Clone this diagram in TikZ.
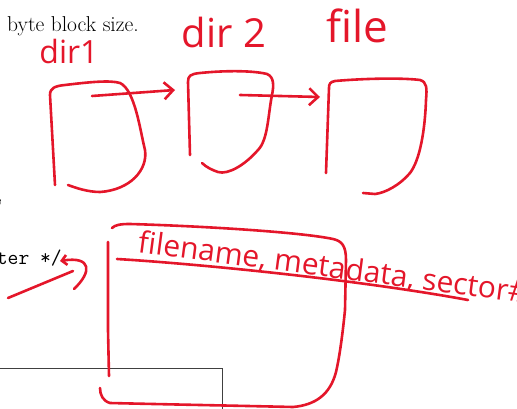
\documentclass[tikz,border=0pt]{standalone}
\usepackage{fontspec}
\usetikzlibrary{arrows.meta}
\newfontfamily\handfont{Open Sans}
\definecolor{ink}{RGB}{228,22,42}
\begin{document}
\begin{tikzpicture}[x=1pt,y=-1pt,
  pen/.style={ink, line width=2.6pt, line cap=round, line join=round},
  tip/.style={pen, -{Straight Barb[length=9pt,width=17pt]}},
  hand/.style={ink, inner sep=0pt, font=\handfont\fontsize{#1}{#1}\selectfont},
  print/.style={black, inner sep=0pt, anchor=base west, font=\fontsize{21.5}{24}\selectfont}]
\useasboundingbox (0,0) rectangle (517,409);
\clip (0,0) rectangle (517,409);

% page underneath
\node[print] (bsize) at (7,32) {byte block size.};
\node[print, anchor=base east] (comma) at (3,201) {,};
\node[print, anchor=base east, font=\ttfamily\fontsize{21}{24}\selectfont] (cmt) at (62,264) {ater */};
\draw[black!75, line width=0.8pt] (0,368) -- (222,368) -- (222,409);

% labels
\node[hand=32] (ldir1) at (69,52) {dir1};
\node[hand=40] (ldir2) at (224,33) {dir 2};
\node[hand=44] (lfile) at (357,26) {file};
\node[hand=30, anchor=base west, rotate=-7.5] (lrec) at (137,252) {filename, metadata, sector\#};

% blocks
\draw[pen] (55,185) -- (50,95) .. controls (50,88) and (55,86) .. (65,85)
  .. controls (90,82) and (110,80) .. (120,83) .. controls (135,90) and (140,130) .. (145,150)
  .. controls (148,170) and (130,190) .. (100,192) .. controls (88,192) and (76,188) .. (68,185);
\draw[pen] (190,155) -- (188,82) .. controls (188,76) and (190,74) .. (200,73)
  .. controls (230,70) and (255,71) .. (267,74) .. controls (274,77) and (274,85) .. (272,95)
  .. controls (268,115) and (268,140) .. (258,150) .. controls (245,165) and (228,175) .. (218,172)
  .. controls (212,170) and (206,167) .. (202,163);
\draw[pen] (326,173) -- (329,88) .. controls (329,84) and (330,82) .. (335,81)
  .. controls (370,78) and (405,78) .. (420,80) .. controls (427,82) and (427,88) .. (426,100)
  .. controls (425,130) and (420,160) .. (410,173) .. controls (400,185) and (385,193) .. (375,194)
  -- (363,193);

% links
\coordinate (a1s) at (92,96);
\coordinate (a1e) at (175,90);
\coordinate (a2s) at (240,95);
\coordinate (a2e) at (320,97);
\draw[tip] (a1s) -- (a1e);
\draw[tip] (a2s) -- (a2e);

% record block
\draw[pen] (112,228) .. controls (115,225) and (120,224) .. (130,224)
  .. controls (200,226) and (300,232) .. (333,239) .. controls (342,241) and (346,246) .. (346,260)
  -- (345,310) .. controls (343,330) and (340,355) .. (336,372)
  .. controls (330,395) and (315,405) .. (293,407) .. controls (250,406) and (150,404) .. (110,403)
  .. controls (103,401) and (100,395) .. (100,388);
\draw[pen] (108,242) -- (108,330) -- (109,376);
\draw[pen] (117,259) .. controls (200,264) and (360,280) .. (468,300);

% pointer
\coordinate (ps) at (8,298);
\coordinate (pe) at (73,271);
\coordinate (hs) at (74,289);
\coordinate (he) at (60,261);
\draw[pen] (ps) -- (pe);
\draw[pen, -{Straight Barb[length=5pt,width=10pt]}] (hs) .. controls (92,272) and (92,256) .. (he);
\end{tikzpicture}
\end{document}
